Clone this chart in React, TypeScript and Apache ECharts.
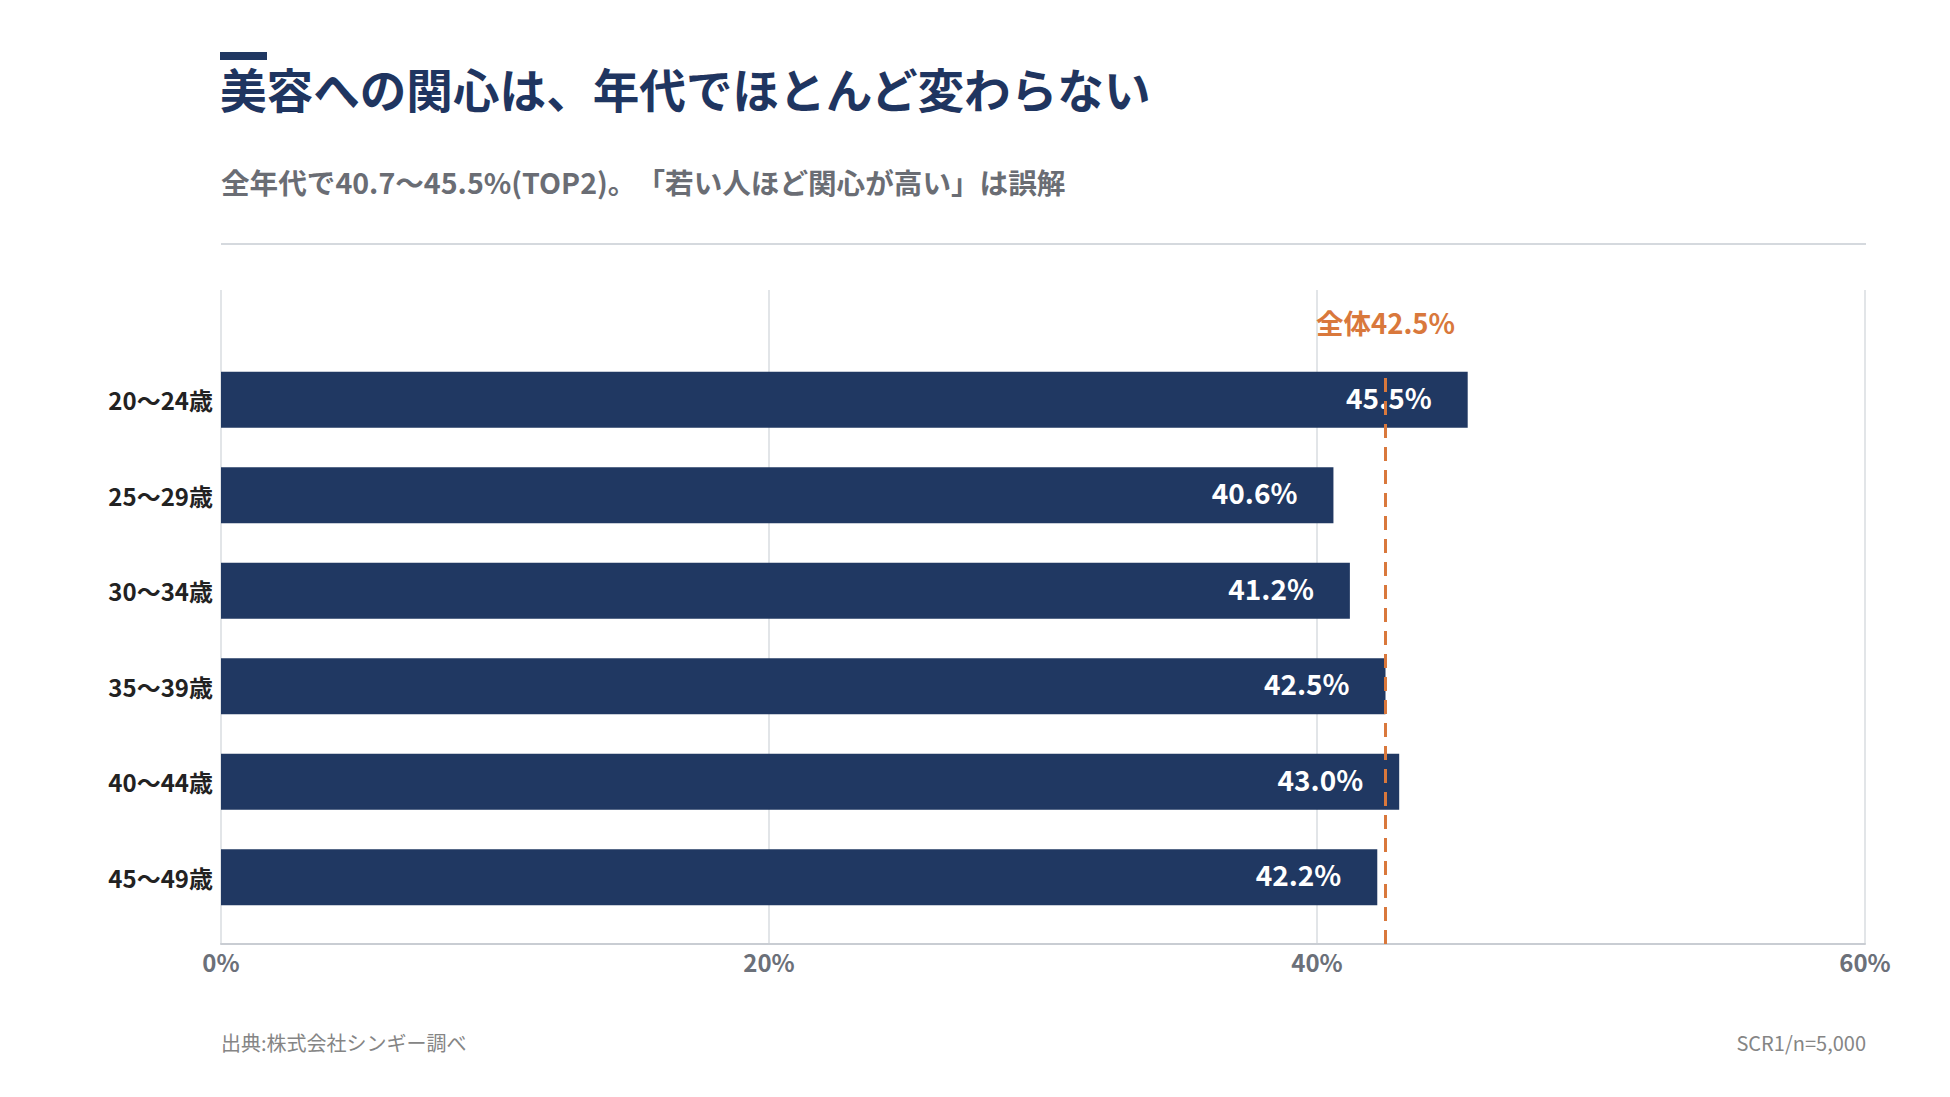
import React, { useEffect, useRef } from "react";
import * as echarts from "echarts";

// Age groups and TOP2 share (%)
const ageGroups = ["20〜24歳", "25〜29歳", "30〜34歳", "35〜39歳", "40〜44歳", "45〜49歳"];
const top2Share = [45.5, 40.6, 41.2, 42.5, 43.0, 42.2];
const overallShare = 42.5;
const xTicks = [0, 20, 40, 60];

const titleText = "美容への関心は、年代でほとんど変わらない";
const subtitleText = "全年代で40.7〜45.5%(TOP2)。「若い人ほど関心が高い」は誤解";
const sourceText = "出典:株式会社シンギー調べ";
const noteText = "SCR1/n=5,000";

const FONT = "'Noto Sans CJK JP', 'Noto Sans', sans-serif";
const NAVY = "#203862";
const ORANGE = "#d9783c";

const App = () => {
  const chartRef = useRef<HTMLDivElement | null>(null);

  useEffect(() => {
    if (!chartRef.current) return;
    const chart = echarts.init(chartRef.current, null, { renderer: "svg" });

    const options = {
      animation: false,
      backgroundColor: "#ffffff",
      textStyle: { fontFamily: FONT },
      grid: [
        // axis/gridline grid (taller, leaves room for the overall label)
        { left: 221, right: 85, top: 290, bottom: 153 },
        // bar grid
        { left: 221, right: 85, top: 352, bottom: 172 },
      ],
      xAxis: [
        {
          type: "value",
          gridIndex: 0,
          min: xTicks[0],
          max: xTicks[xTicks.length - 1],
          interval: 20,
          axisLine: { show: true, lineStyle: { color: "#c9cdd3", width: 2 } },
          axisTick: { show: false },
          splitLine: { show: true, lineStyle: { color: "#d9dce1", width: 1.5 } },
          axisLabel: {
            formatter: "{value}%",
            color: "#6b7079",
            fontSize: 24,
            fontWeight: "bold",
            fontFamily: FONT,
            margin: 5,
          },
        },
        {
          type: "value",
          gridIndex: 1,
          min: xTicks[0],
          max: xTicks[xTicks.length - 1],
          show: false,
        },
      ],
      yAxis: [
        { type: "value", gridIndex: 0, min: 0, max: 100, show: false },
        {
          type: "category",
          gridIndex: 1,
          data: ageGroups,
          inverse: true,
          axisLine: { show: false },
          axisTick: { show: false },
          splitLine: { show: false },
          axisLabel: {
            color: "#222222",
            fontSize: 24,
            fontWeight: "bold",
            fontFamily: FONT,
            margin: 8,
          },
        },
      ],
      series: [
        {
          name: "TOP2",
          type: "bar",
          xAxisIndex: 1,
          yAxisIndex: 1,
          data: top2Share,
          barWidth: 56,
          itemStyle: { color: NAVY },
          label: {
            show: true,
            position: "insideRight",
            distance: 36,
            offset: [0, -3],
            color: "#ffffff",
            fontSize: 28,
            fontWeight: "bold",
            fontFamily: FONT,
            formatter: (p: any) => `${Number(p.value).toFixed(1)}%`,
          },
        },
        {
          name: "overall",
          type: "line",
          xAxisIndex: 0,
          yAxisIndex: 0,
          data: [],
          z: 5,
          markLine: {
            silent: true,
            symbol: "none",
            lineStyle: { color: ORANGE, width: 3, type: [14, 9] },
            label: {
              show: true,
              position: "end",
              distance: 41,
              formatter: `全体${overallShare.toFixed(1)}%`,
              color: ORANGE,
              fontSize: 27.5,
              fontWeight: "bold",
              fontFamily: FONT,
            },
            data: [
              [
                { coord: [overallShare, 0] },
                { coord: [overallShare, 86.8] },
              ],
            ],
          },
        },
      ],
      graphic: [
        {
          type: "rect",
          shape: { x: 220, y: 52, width: 47, height: 8 },
          style: { fill: NAVY },
        },
        {
          type: "text",
          x: 220,
          y: 87,
          style: {
            text: titleText,
            font: `bold 46.6px ${FONT}`,
            fill: "#1f3560",
            textVerticalAlign: "middle",
          },
        },
        {
          type: "text",
          x: 221,
          y: 181,
          style: {
            text: subtitleText,
            font: `bold 28.6px ${FONT}`,
            fill: "#6a6d74",
            textVerticalAlign: "middle",
          },
        },
        {
          type: "line",
          shape: { x1: 221, y1: 244, x2: 1866, y2: 244 },
          style: { stroke: "#d5d9de", lineWidth: 2 },
        },
        {
          type: "text",
          x: 221,
          y: 1042,
          style: {
            text: sourceText,
            font: `20px ${FONT}`,
            fill: "#858585",
            textVerticalAlign: "middle",
          },
        },
        {
          type: "text",
          x: 1866,
          y: 1042,
          style: {
            text: noteText,
            font: `20px ${FONT}`,
            fill: "#858585",
            textAlign: "right",
            textVerticalAlign: "middle",
          },
        },
      ],
    };

    chart.setOption(options);

    return () => {
      chart.dispose();
    };
  }, []);

  return (
    <>
      {/* keep full-width CJK punctuation (。「) untrimmed */}
      <style>{"text { text-spacing-trim: space-all; }"}</style>
      <div
        ref={chartRef}
        style={{ position: "fixed", left: 0, top: 0, width: "1950px", height: "1097px" }}
      ></div>
    </>
  );
};

export default App;
